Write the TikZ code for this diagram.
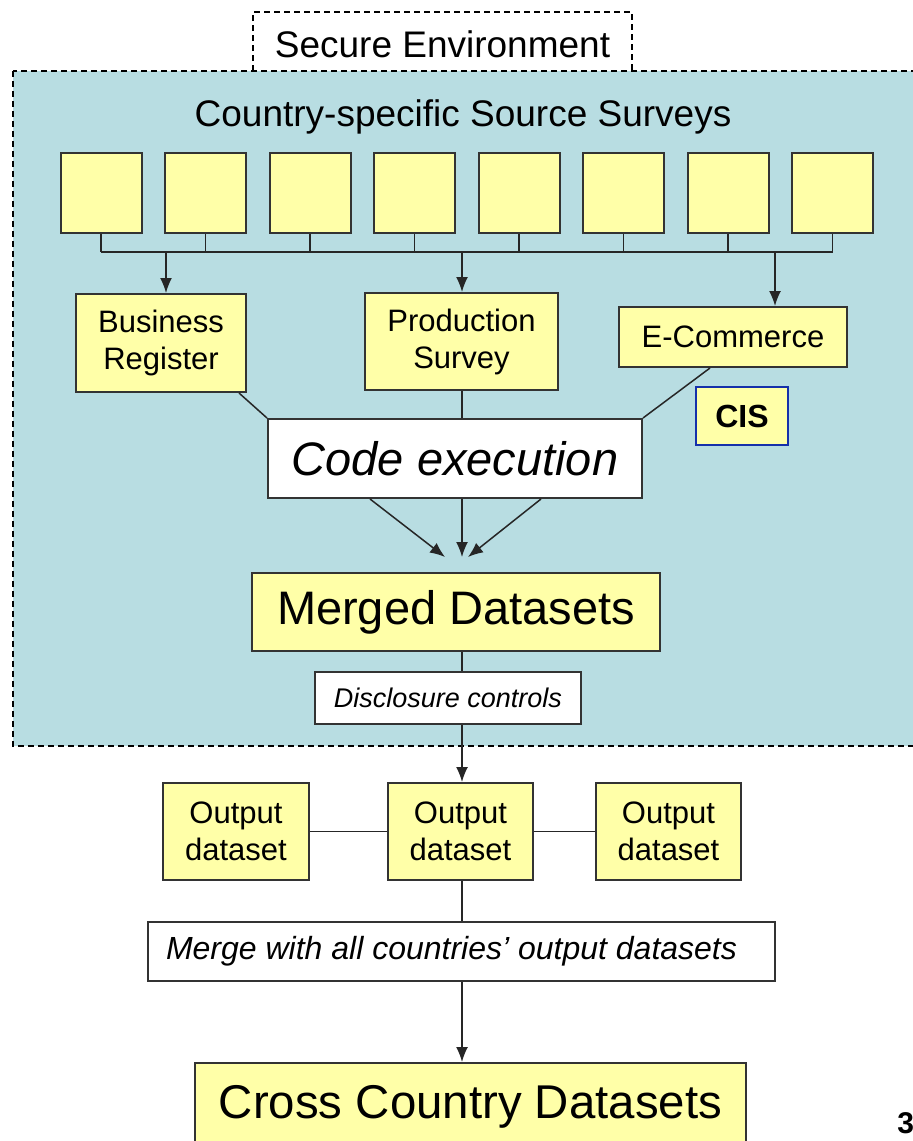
\documentclass[tikz,border=0pt]{standalone}
\usepackage{fontspec}
\setmainfont{Liberation Sans}
\usetikzlibrary{arrows.meta}

\definecolor{envblue}{RGB}{184,221,226}
\definecolor{boxyellow}{RGB}{255,255,168}
\definecolor{cisblue}{RGB}{22,48,170}
\newcommand{\fsz}[2]{\fontsize{#1}{#2}\selectfont}

\begin{document}
\begin{tikzpicture}[x=0.5pt, y=-0.5pt,
            box/.style={draw=black!80, line width=1pt, fill=boxyellow, inner sep=0pt, align=center,
                font=\fsz{15.5pt}{18.5pt}},
            whitebox/.style={box, fill=white},
            link/.style={line width=0.75pt, black!85},
            envline/.style={line width=0.6pt, dash pattern=on 3pt off 2pt},
            >={Latex[length=7.5pt,width=6pt]}]
    \useasboundingbox (0,0) rectangle (912,1141);

    % secure environment
    \fill[envblue] (13,71) rectangle (930,746);
    \draw[envline] (13,71) rectangle (930,746);
    \draw[envline] (253,71) -- (253,12) -- (632,12) -- (632,71);
    \node (secenv) at (442.5,44) {\fsz{18.5pt}{22pt}Secure Environment};
    \node (srctitle) at (463,117) {\fsz{18.5pt}{22pt}Country-specific Source Surveys};

    % source surveys and their bus
    \foreach \i in {0,...,7} {
        \node[box, minimum width=40.5pt, minimum height=40pt] (src\i) at (101+104.5*\i,193) {};
        \draw[link] (src\i.south) -- ++(0,18);
    }
    \path (src0.south) ++(0,18) coordinate (busL);
    \path (src7.south) ++(0,18) coordinate (busR);
    \draw[link] (busL) -- (busR);

    \node[box, minimum width=85pt, minimum height=49pt] (breg) at (161,343) {Business\\Register};
    \node[box, minimum width=96.5pt, minimum height=48.5pt] (prod) at (461.5,341.5) {Production\\Survey};
    \node[box, minimum width=114pt, minimum height=30pt] (ecom) at (733,337) {E-Commerce};
    \node[box, draw=cisblue, minimum width=46pt, minimum height=29pt,
          font=\fsz{16pt}{19pt}\bfseries] (cis) at (742,416) {CIS};

    \coordinate (tapB) at (166,251);
    \coordinate (tapP) at (462,251);
    \coordinate (tapE) at (775,251);
    \draw[link,->] (tapB) -- (tapB |- breg.north);
    \draw[link,->] (tapP) -- (tapP |- prod.north);
    \draw[link,->] (tapE) -- (tapE |- ecom.north);

    % code execution
    \node[whitebox, minimum width=187pt, minimum height=39.5pt,
          font=\fsz{23.5pt}{28pt}\itshape] (code) at (455,458.5) {Code execution};
    \draw[link] (breg.south east) ++(-8,0) -- (code.north west);
    \draw[link] (tapP |- prod.south) -- (tapP |- code.north);
    \draw[link] (ecom.south) ++(-23,0) -- (code.north east);

    \coordinate (conv) at (462,557);
    \draw[link,->] (code.south) ++(-85,0) -- ([xshift=-8.5pt]conv);
    \draw[link,->] (conv |- code.south) -- (conv);
    \draw[link,->] (code.south) ++(86,0) -- ([xshift=3pt]conv);

    \node[box, minimum width=204pt, minimum height=39pt,
          font=\fsz{23.5pt}{28pt}] (merged) at (456,612) {Merged Datasets};
    \node[whitebox, minimum width=133pt, minimum height=26pt,
          font=\fsz{13.5pt}{16pt}\itshape] (disc) at (448,698) {Disclosure controls};

    % outputs
    \node[box, minimum width=72.5pt, minimum height=48.5pt] (outc) at (460.5,831.5) {Output\\dataset};
    \node[box, minimum width=73pt, minimum height=48.5pt] (outl) at (236,831.5) {Output\\dataset};
    \node[box, minimum width=72.5pt, minimum height=48.5pt] (outr) at (668.5,831.5) {Output\\dataset};
    \node[whitebox, minimum width=313.5pt, minimum height=29.5pt,
          font=\fsz{16pt}{19pt}\itshape] (mrg) at (461.5,951.5) {Merge with all countries’ output datasets\hspace{10pt}};
    \node[box, minimum width=275.5pt, minimum height=43.5pt,
          font=\fsz{23.7pt}{28pt}] (cross) at (470.5,1106.5) {Cross Country Datasets};

    \coordinate (spine) at (462,0);
    \draw[link] (spine |- merged.south) -- (spine |- disc.north);
    \draw[link,->] (spine |- disc.south) -- (spine |- outc.north);
    \draw[link] (outl.east) -- (outc.west);
    \draw[link] (outc.east) -- (outr.west);
    \draw[link] (spine |- outc.south) -- (spine |- mrg.north);
    \draw[link,->] (spine |- mrg.south) -- (spine |- cross.north);

    \node[anchor=west, inner sep=0pt, font=\fsz{15pt}{18pt}\bfseries] (pagenum) at (897,1123) {3};
\end{tikzpicture}
\end{document}
